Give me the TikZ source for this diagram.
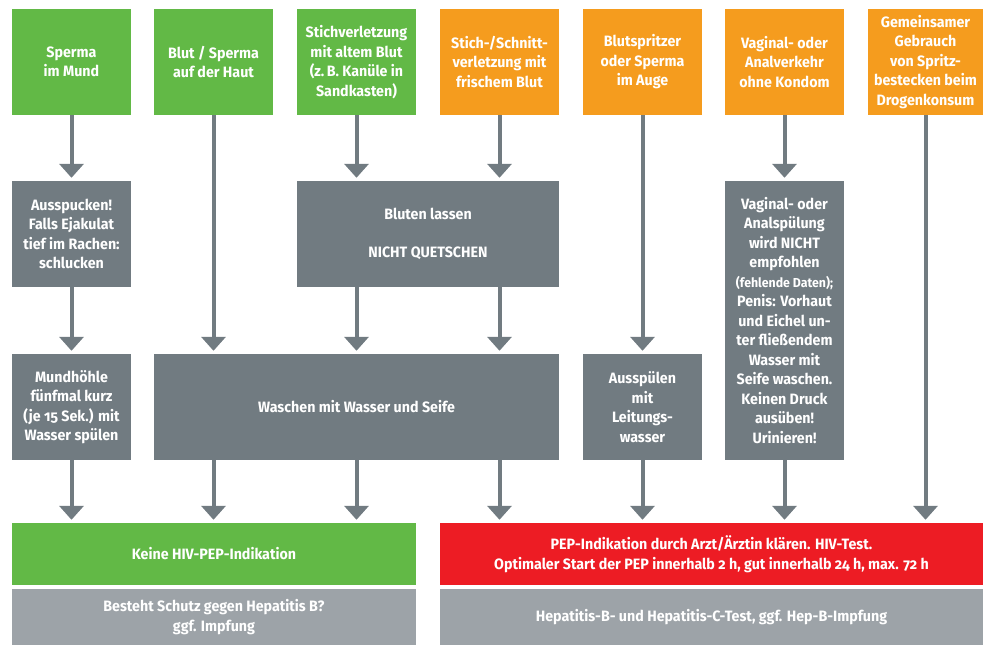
\documentclass[tikz,border=0pt]{standalone}
\usepackage{fontspec}
\setmainfont{Fira Sans}[Numbers=OldStyle,FakeStretch=0.95]
\usepackage{xcolor}
\usepackage{tikz}
\usetikzlibrary{arrows.meta,positioning,calc}
\definecolor{boxgreen}{RGB}{98,185,70}
\definecolor{boxorange}{RGB}{245,156,30}
\definecolor{boxred}{RGB}{237,28,36}
\definecolor{boxgray}{RGB}{113,123,129}
\definecolor{boxlight}{RGB}{157,163,168}

\begin{document}
\begin{tikzpicture}[
  x=1pt, y=-1pt,
  font=\fontsize{15}{19.5}\selectfont\bfseries,
  box/.style={align=center, text=white, inner sep=2pt, minimum width=119pt, minimum height=106pt},
  ex/.style={box, fill=boxgreen},
  hi/.style={box, fill=boxorange},
  act/.style={box, fill=boxgray},
  res/.style={box, minimum height=62pt},
  info/.style={box, fill=boxlight, minimum height=56pt},
  arr/.style={draw=boxgray, line width=4pt, -{Triangle[width=24pt,length=14pt]}, shorten >=3pt}
]
\useasboundingbox (0,0) rectangle (983,645);

% Exposure row
\node[ex] (sperma)   at (71.5,62)  {Sperma\\im Mund};
\node[ex] (blut)     at (213.5,62) {Blut / Sperma\\auf der Haut};
\node[ex] (stich)    at (356.5,62) {Stichverletzung\\mit altem Blut\\(z.\,B. Kanüle in\\Sandkasten)};
\node[hi] (schnitt)  at (499.5,62) {Stich-/Schnitt-\\verletzung mit\\frischem Blut};
\node[hi] (spritzer) at (642.5,62) {Blutspritzer\\oder Sperma\\im Auge};
\node[hi] (verkehr)  at (784.5,62) {Vaginal- oder\\Analverkehr\\ohne Kondom};
\node[hi, minimum width=115pt] (drogen) at (925.5,62) {Gemeinsamer\\Gebrauch\\von Spritz-\\bestecken beim\\Drogenkonsum};

% First measures
\node[act] (spucken) at (71.5,234) {Ausspucken!\\Falls Ejakulat\\tief im Rachen:\\schlucken};
\node[act, minimum width=262pt] (bluten) at (428,234) {Bluten lassen\\[19pt]NICHT QUETSCHEN};
\node[act, minimum height=279pt] (spuelung) at (784.5,320.5) {Vaginal- oder\\Analspülung\\wird NICHT\\empfohlen\\{\fontsize{13}{19.5}\selectfont(fehlende Daten);}\\Penis: Vorhaut\\und Eichel un-\\ter fließendem\\Wasser mit\\Seife waschen.\\Keinen Druck\\ausüben!\\Urinieren!};

% Second measures
\node[act] (mundhoehle) at (71.5,407) {Mundhöhle\\fünfmal kurz\\(je 15 Sek.) mit\\Wasser spülen};
\node[act, minimum width=405pt] (waschen) at (356.5,407) {Waschen mit Wasser und Seife};
\node[act] (ausspuelen) at (642.5,407) {Ausspülen\\mit\\Leitungs-\\wasser};

% Outcome
\node[res, fill=boxgreen, minimum width=404pt] (keinepep) at (214,554) {Keine HIV-PEP-Indikation};
\node[res, fill=boxred, minimum width=543pt] (pep) at (711.5,554) {PEP-Indikation durch Arzt/Ärztin klären. HIV-Test.\\Optimaler Start der PEP innerhalb 2 h, gut innerhalb 24 h, max. 72 h};
\node[info, minimum width=404pt] (hepb) at (214,617) {Besteht Schutz gegen Hepatitis B?\\ggf. Impfung};
\node[info, minimum width=543pt] (hepc) at (711.5,617) {Hepatitis-B- und Hepatitis-C-Test, ggf. Hep-B-Impfung};

% Arrows
\draw[arr] (sperma) -- (spucken);
\draw[arr] (spucken) -- (mundhoehle);
\draw[arr] (mundhoehle) -- (mundhoehle.south |- keinepep.north);
\draw[arr] (blut) -- (blut.south |- waschen.north);
\draw[arr] (stich) -- (stich.south |- bluten.north);
\draw[arr] (schnitt) -- (schnitt.south |- bluten.north);
\draw[arr] (stich.south |- bluten.south) -- (stich.south |- waschen.north);
\draw[arr] (schnitt.south |- bluten.south) -- (schnitt.south |- waschen.north);
\draw[arr] (blut.south |- waschen.south) -- (blut.south |- keinepep.north);
\draw[arr] (stich.south |- waschen.south) -- (stich.south |- keinepep.north);
\draw[arr] (schnitt.south |- waschen.south) -- (schnitt.south |- pep.north);
\draw[arr] (spritzer) -- (ausspuelen);
\draw[arr] (ausspuelen) -- (ausspuelen.south |- pep.north);
\draw[arr] (verkehr) -- (spuelung);
\draw[arr] (spuelung) -- (spuelung.south |- pep.north);
\draw[arr] (drogen) -- (drogen.south |- pep.north);
\end{tikzpicture}
\end{document}
